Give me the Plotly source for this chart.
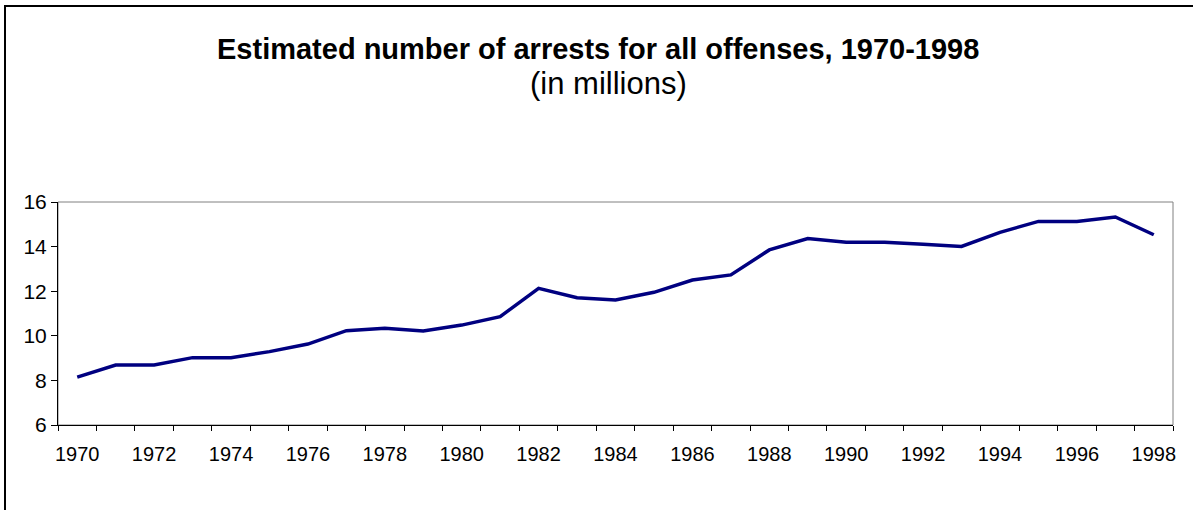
import plotly.graph_objects as go

# Estimated arrests for all offenses (millions), one value per year
years = list(range(1970, 1999))
arrests = [8.15, 8.69, 8.69, 9.02, 9.02, 9.29, 9.63, 10.23, 10.34, 10.22,
           10.48, 10.86, 12.13, 11.71, 11.61, 11.95, 12.50, 12.73, 13.85,
           14.36, 14.19, 14.19, 14.10, 14.01, 14.64, 15.13, 15.13, 15.33, 14.53]
label_years = list(range(1970, 1999, 2))
y_ticks = [6, 8, 10, 12, 14, 16]

title_text = "Estimated number of arrests for all offenses, 1970-1998"
subtitle_text = "(in millions)"

W, H = 1193, 510
ML, MR, MT, MB = 58, 20, 202, 85
PW, PH = W - ML - MR, H - MT - MB

def px_to_paper_x(px):
    return (px - ML) / PW

def px_to_paper_y(py):
    return (H - MB - py) / PH

font_family = "Liberation Sans, Arial, sans-serif"

fig = go.Figure()
fig.add_trace(go.Scatter(
    x=years, y=arrests, mode="lines",
    line=dict(color="#000080", width=3.5),
    hoverinfo="x+y", showlegend=False,
))

fig.update_layout(
    width=W, height=H,
    margin=dict(l=ML, r=MR, t=MT, b=MB, pad=0),
    paper_bgcolor="white", plot_bgcolor="white",
    font=dict(family=font_family, size=20, color="black"),
    xaxis=dict(
        range=[years[0] - 0.5, years[-1] + 0.5],
        tickvals=label_years, ticktext=[str(y) for y in label_years],
        ticks="", ticklabelstandoff=11,
        showgrid=False, zeroline=False,
        showline=True, linecolor="black", linewidth=1,
        minor=dict(ticks="outside", tick0=years[0] - 0.5, dtick=1,
                   ticklen=5, tickcolor="black", tickwidth=1, showgrid=False),
        tickfont=dict(size=20),
    ),
    yaxis=dict(
        range=[y_ticks[0], y_ticks[-1]],
        tickvals=y_ticks,
        ticks="outside", ticklen=6, tickcolor="black", tickwidth=1,
        showgrid=False, zeroline=False,
        showline=True, linecolor="black", linewidth=1,
        tickfont=dict(size=21),
    ),
    shapes=[
        # plot-area frame (grey top and right edges)
        dict(type="rect", xref="paper", yref="paper", x0=0, x1=1, y0=0, y1=1,
             line=dict(color="#808080", width=1), layer="below"),
        # chart-area border along the top and left
        dict(type="line", xref="paper", yref="paper",
             x0=px_to_paper_x(5), x1=px_to_paper_x(W + 5),
             y0=px_to_paper_y(6), y1=px_to_paper_y(6),
             line=dict(color="black", width=2)),
        dict(type="line", xref="paper", yref="paper",
             x0=px_to_paper_x(5), x1=px_to_paper_x(5),
             y0=px_to_paper_y(5), y1=px_to_paper_y(H + 5),
             line=dict(color="black", width=2)),
    ],
    annotations=[
        dict(text="<b>" + title_text + "</b>", xref="paper", yref="paper",
             x=px_to_paper_x(598), y=px_to_paper_y(49), xanchor="center",
             yanchor="middle", showarrow=False,
             font=dict(family=font_family, size=29, color="black")),
        dict(text=subtitle_text, xref="paper", yref="paper",
             x=px_to_paper_x(608), y=px_to_paper_y(83), xanchor="center",
             yanchor="middle", showarrow=False,
             font=dict(family=font_family, size=31, color="black")),
    ],
)

fig.write_html("out.html")
